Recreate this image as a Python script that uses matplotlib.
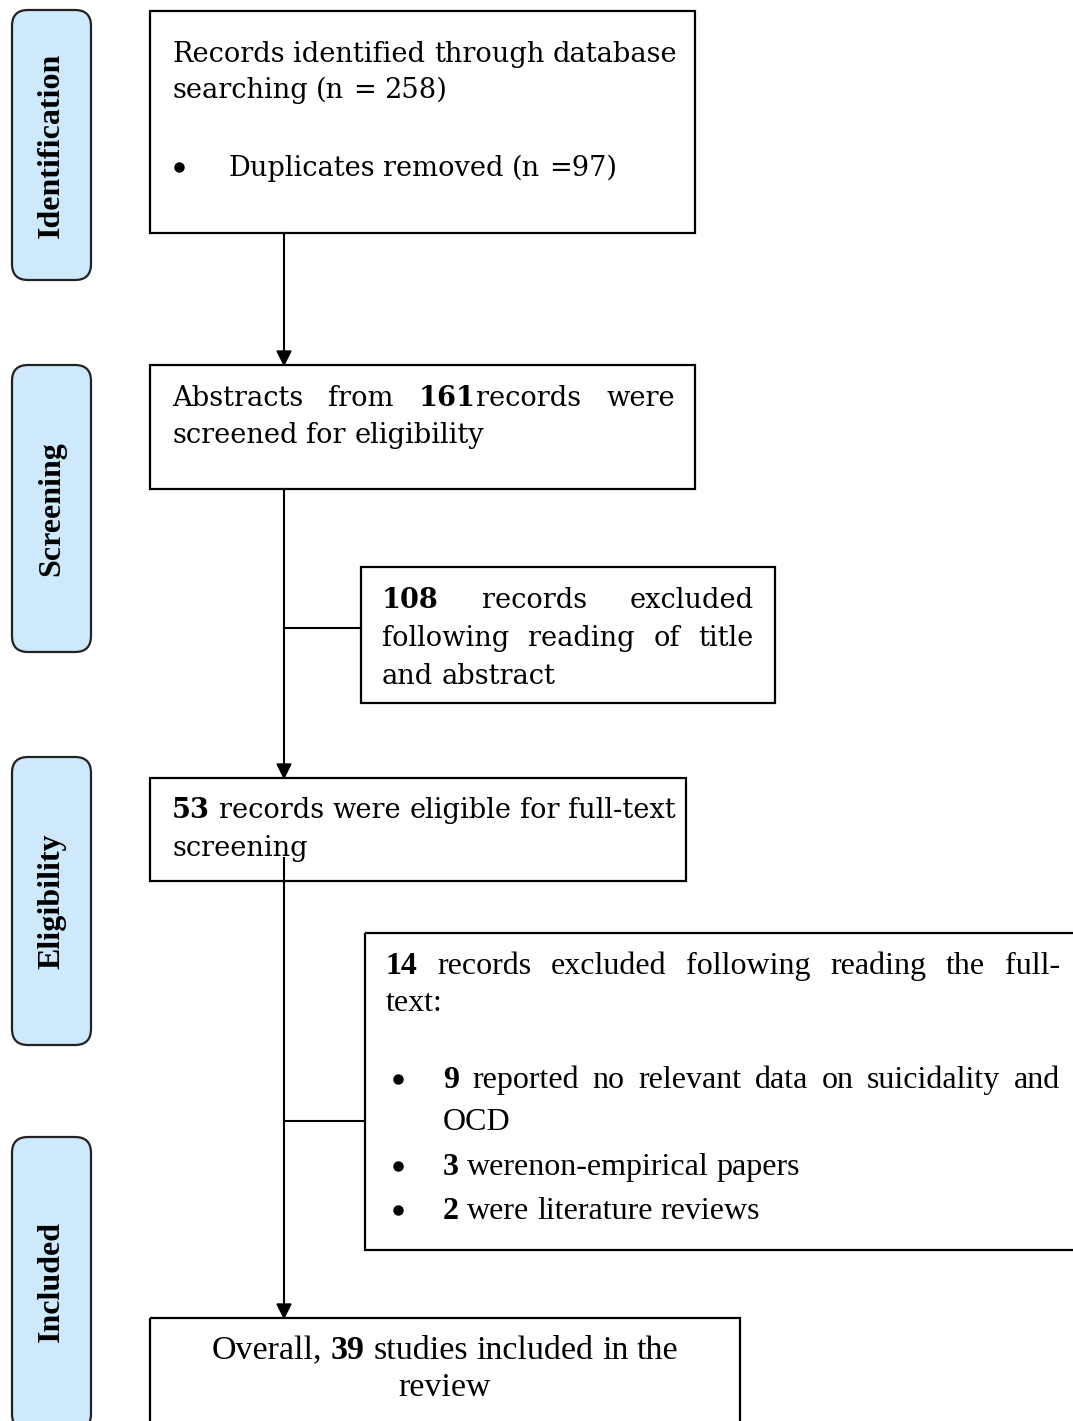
import matplotlib.pyplot as plt
from matplotlib.patches import FancyBboxPatch, Rectangle, Polygon

# stage labels on the left
stages = ['Identification', 'Screening', 'Eligibility', 'Included']
stage_spans = [(10, 280), (365, 652), (757, 1045), (1137, 1430)]

# box texts, *x* = bold part
box1_lines = ['Records identified through database', 'searching (n = 258)']
box1_bullet = 'Duplicates removed (n =97)'
box2_lines = ['Abstracts from *161*records were', 'screened for eligibility']
box3_lines = ['*108* records excluded', 'following reading of title', 'and abstract']
box4_lines = ['*53* records were eligible for full-text', 'screening']
box5_lines = ['*14* records excluded following reading the full-', 'text:']
box5_bullets = [['*9* reported no relevant data on suicidality and', 'OCD'],
                ['*3* werenon-empirical papers'],
                ['*2* were literature reviews']]
box6_lines = ['Overall, *39* studies included in the', 'review']

W, H = 1073, 1421
fig = plt.figure(figsize=(W / 100, H / 100), dpi=100)
ax = fig.add_axes([0, 0, 1, 1])
ax.set_xlim(0, W)
ax.set_ylim(H, 0)
ax.axis('off')
renderer = fig.canvas.get_renderer()

SERIF = 'DejaVu Serif'
TIMES = 'Liberation Serif'


def width_of(t):
    bb = t.get_window_extent(renderer=renderer)
    return bb.width


def draw_line(line, x0, y, x1=None, size=19.6, family=SERIF, center=False):
    # place word segments one by one so justification and bold runs work
    words = line.split(' ')
    pieces = []
    for w in words:
        segs = w.split('*')
        parts = []
        for i, s in enumerate(segs):
            if s:
                parts.append((s, i % 2 == 1))
        pieces.append(parts)
    probe = ax.text(0, 0, 'a a', fontsize=size, family=family)
    probe2 = ax.text(0, 0, 'aa', fontsize=size, family=family)
    space = width_of(probe) - width_of(probe2)
    probe.remove()
    probe2.remove()
    # measure
    made = []
    widths = []
    for parts in pieces:
        ts = []
        wsum = 0
        for s, b in parts:
            t = ax.text(0, y, s, fontsize=size, family=family,
                        fontweight='bold' if b else 'normal', va='baseline', ha='left')
            wsum += width_of(t)
            ts.append(t)
        made.append(ts)
        widths.append(wsum)
    total = sum(widths)
    if x1 is not None and len(pieces) > 1:
        gap = (x1 - x0 - total) / (len(pieces) - 1)
    else:
        gap = space
    if center:
        full = total + gap * (len(pieces) - 1)
        x = x0 - full / 2
    else:
        x = x0
    for ts in made:
        for t in ts:
            t.set_x(x)
            x += width_of(t)
        x += gap


def box(x0, y0, x1, y1):
    ax.add_patch(Rectangle((x0, y0), x1 - x0, y1 - y0, fill=False, ec='black', lw=1.6))


def arrow_down(x, y0, y1):
    ax.plot([x, x], [y0, y1 - 12], color='black', lw=1.5)
    ax.add_patch(Polygon([(x - 7, y1 - 14), (x + 7, y1 - 14), (x, y1)], closed=True, color='black'))


def bullet(x, y):
    ax.plot([x], [y], marker='o', ms=6.5, color='black')


# stage labels
for name, (a, b) in zip(stages, stage_spans):
    ax.add_patch(FancyBboxPatch((12, a), 79, b - a, boxstyle='round,pad=0,rounding_size=16',
                                fc='#cde9fb', ec='#222222', lw=1.6))
    ax.text(51.5, (a + b) / 2 if b < H else 1282, name, rotation=90, ha='center', va='center',
            fontsize=23, family=TIMES, fontweight='bold')

# box 1
box(150, 11, 695, 233)
draw_line(box1_lines[0], 172, 62)
draw_line(box1_lines[1], 172, 98)
bullet(179, 167)
draw_line(box1_bullet, 228, 176)

arrow_down(284, 233, 365)

# box 2
box(150, 365, 695, 489)
draw_line(box2_lines[0], 172, 406, 675)
draw_line(box2_lines[1], 172, 443)

arrow_down(284, 489, 778)
ax.plot([284, 361], [628, 628], color='black', lw=1.5)

# box 3
box(361, 567, 775, 703)
draw_line(box3_lines[0], 382, 608, 754)
draw_line(box3_lines[1], 382, 646, 754)
draw_line(box3_lines[2], 382, 684)

# box 4
box(150, 778, 686, 881)
draw_line(box4_lines[0], 172, 818)
draw_line(box4_lines[1], 172, 856)

arrow_down(284, 858, 1318)
ax.plot([284, 365], [1121, 1121], color='black', lw=1.5)

# box 5
box(365, 933, 1080, 1250)
draw_line(box5_lines[0], 386, 974, 1060, size=23, family=TIMES)
draw_line(box5_lines[1], 386, 1011, size=23, family=TIMES)
by = [1088, 1175, 1219]
for y, lines in zip(by, box5_bullets):
    bullet(398, y - 9)
    for k, ln in enumerate(lines):
        jx = 1060 if (len(lines) > 1 and k == 0) else None
        draw_line(ln, 443, y + 42 * k, jx, size=23, family=TIMES)

# box 6
box(150, 1318, 740, 1430)
draw_line(box6_lines[0], 445, 1359, size=24.5, family=TIMES, center=True)
draw_line(box6_lines[1], 445, 1396, size=24.5, family=TIMES, center=True)

fig.savefig('out.png', dpi=100)
